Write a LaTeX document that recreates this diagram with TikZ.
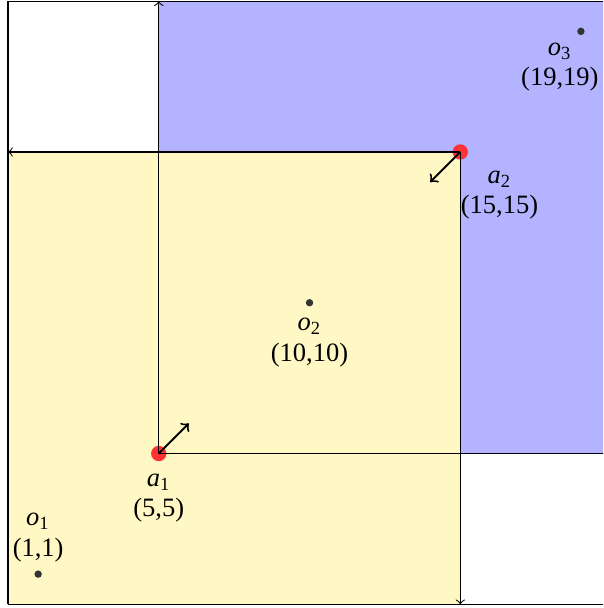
\documentclass[tikz,border=0pt]{standalone}
\usepackage{fontspec}
\setmainfont{Liberation Serif}
\definecolor{yellowfill}{RGB}{255,248,196}
\definecolor{bluefill}{RGB}{179,179,255}
\begin{document}
\begin{tikzpicture}[x=0.4cm,y=0.4cm,
  agent/.style={circle,fill=red!80,inner sep=0pt,minimum size=5.8pt},
  obj/.style={circle,fill=black!80,inner sep=0pt,minimum size=2.8pt},
  lbl/.style={anchor=base,inner sep=0pt,font=\fontsize{10}{12}\selectfont},
  edge/.style={black,line width=0.4pt},
  move/.style={->,line width=0.75pt}]
\clip (-0.265,-0.123) rectangle (19.735,20.04);
% regions
\fill[bluefill] (5,5) rectangle (20,20);
\fill[yellowfill] (0,0) rectangle (15,15);
% corner coordinates
\coordinate (c00) at (0,0);
\coordinate (c020) at (0,20);
\coordinate (c200) at (20,0);
\coordinate (c2020) at (20,20);
\coordinate (c015) at (0,15);
\coordinate (c150) at (15,0);
\coordinate (c520) at (5,20);
\coordinate (c205) at (20,5);
% agents
\node[agent] (a1) at (5,5) {};
\node[agent] (a2) at (15,15) {};
% frame
\draw[edge] (c00) -- (c200);
\draw[edge] (c00) -- (c020);
\draw[edge] (c020) -- (c2020);
% range lines
\draw[edge,->] (a1.center) -- (c520);
\draw[edge,->] (a1.center) -- (c205);
\draw[edge,->] (a2.center) -- (c015);
\draw[edge,->] (a2.center) -- (c150);
% movement arrows
\coordinate (a1m) at (6,6);
\coordinate (a2m) at (14,14);
\draw[move] (a1.center) -- (a1m);
\draw[move] (a2.center) -- (a2m);
% objects
\node[obj] (o1) at (1,1) {};
\node[obj] (o2) at (10,10) {};
\node[obj] (o3) at (19,19) {};
% labels
\node[lbl] (a1n) at (5,3.92) {\textit{a}\textsubscript{1}};
\node[lbl] (a1c) at (5,2.90) {(5,5)};
\node[lbl] (a2n) at (16.3,13.94) {\textit{a}\textsubscript{2}};
\node[lbl] (a2c) at (16.3,12.97) {(15,15)};
\node[lbl] (o1n) at (1,2.60) {\textit{o}\textsubscript{1}};
\node[lbl] (o1c) at (1,1.57) {(1,1)};
\node[lbl] (o2n) at (10,9.07) {\textit{o}\textsubscript{2}};
\node[lbl] (o2c) at (10,8.05) {(10,10)};
\node[lbl] (o3n) at (18.3,18.19) {\textit{o}\textsubscript{3}};
\node[lbl] (o3c) at (18.3,17.19) {(19,19)};
\end{tikzpicture}
\end{document}
